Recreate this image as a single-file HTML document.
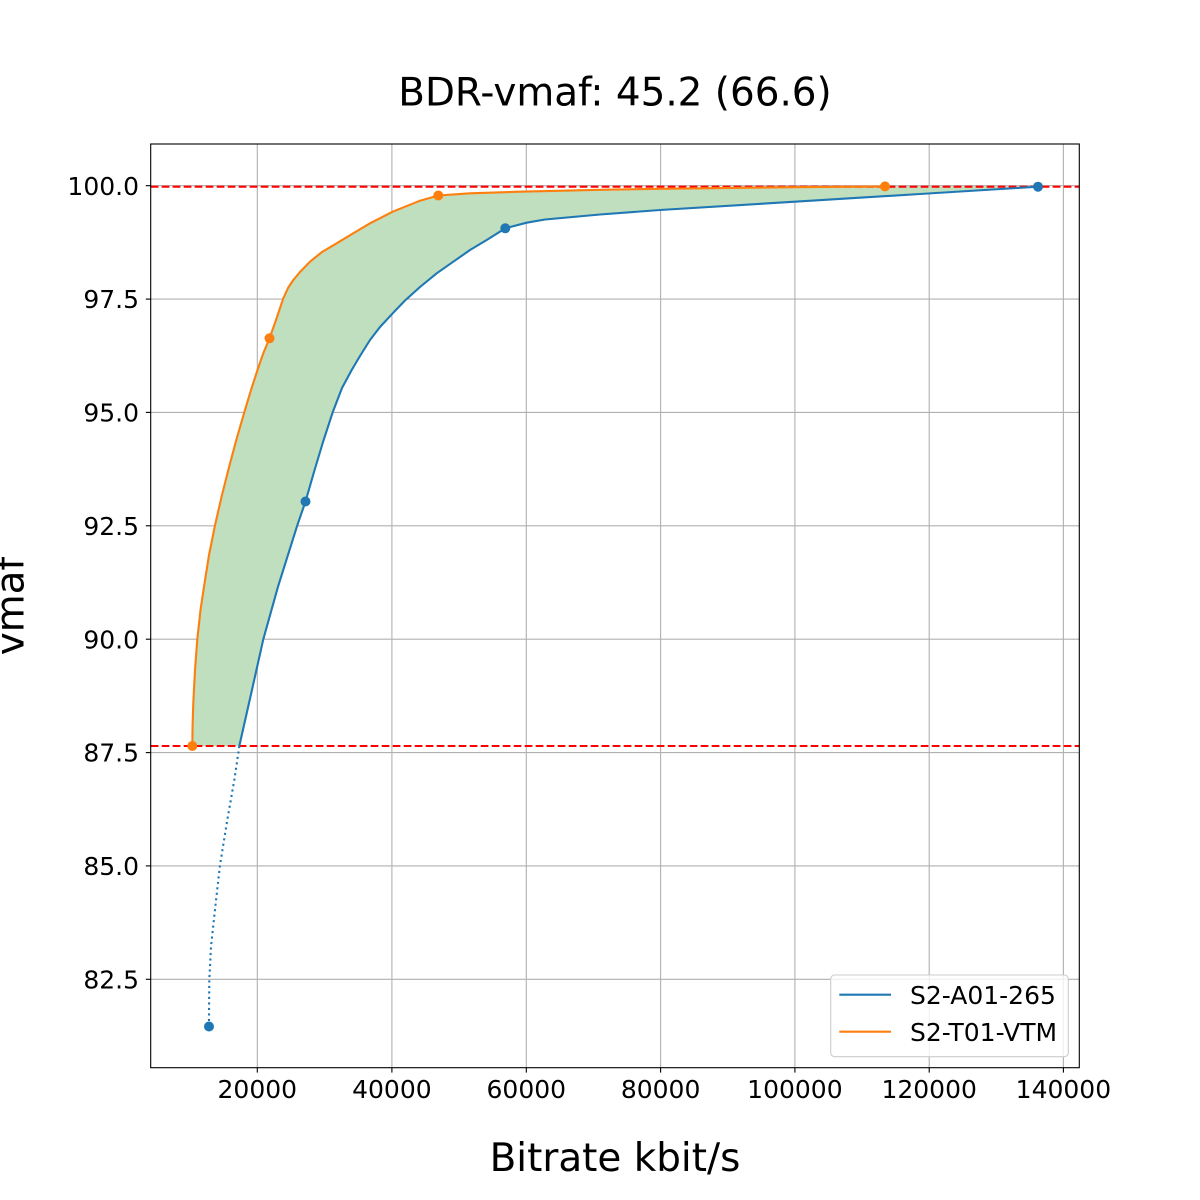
<!DOCTYPE html>
<html>
<head>
<meta charset="utf-8">
<style>
  html, body { margin: 0; padding: 0; background: #ffffff; }
  svg { display: block; }
  text { font-family: "DejaVu Sans", "Liberation Sans", sans-serif; fill: #000; }
</style>
</head>
<body>
<svg width="1200" height="1200" viewBox="0 0 1200 1200" xmlns="http://www.w3.org/2000/svg">
  <rect x="0" y="0" width="1200" height="1200" fill="#ffffff"/>

  <!-- Title -->
  <text x="615" y="105.7" font-size="38.9" text-anchor="middle">BDR-vmaf: 45.2 (66.6)</text>

  <!-- Grid -->
  <g stroke="#b0b0b0" stroke-width="1.1" fill="none">
    <line x1="257.3" y1="144" x2="257.3" y2="1067.7"/>
    <line x1="391.9" y1="144" x2="391.9" y2="1067.7"/>
    <line x1="526.3" y1="144" x2="526.3" y2="1067.7"/>
    <line x1="660.6" y1="144" x2="660.6" y2="1067.7"/>
    <line x1="794.9" y1="144" x2="794.9" y2="1067.7"/>
    <line x1="929.2" y1="144" x2="929.2" y2="1067.7"/>
    <line x1="1063.4" y1="144" x2="1063.4" y2="1067.7"/>

    <line x1="150.7" y1="185.7" x2="1079.3" y2="185.7"/>
    <line x1="150.7" y1="299.1" x2="1079.3" y2="299.1"/>
    <line x1="150.7" y1="412.4" x2="1079.3" y2="412.4"/>
    <line x1="150.7" y1="525.8" x2="1079.3" y2="525.8"/>
    <line x1="150.7" y1="639.2" x2="1079.3" y2="639.2"/>
    <line x1="150.7" y1="752.6" x2="1079.3" y2="752.6"/>
    <line x1="150.7" y1="865.9" x2="1079.3" y2="865.9"/>
    <line x1="150.7" y1="979.3" x2="1079.3" y2="979.3"/>
  </g>

  <!-- Fill between curves -->
  <polygon fill="#bfdfbf" stroke="none" points="
    192.3,746 192.6,725 193.3,703 195,670 197.3,639.3 200.5,610 204,586.7 209,555 215,525.3 221.5,497 228.3,470 236,441 244.3,412.3 251,390 257.5,370 263,354 269.5,338.3 276,320 283.3,298.3 288,288 293.3,280 300,272 310,261.7 322,252 336.7,243.3 352,234 370,223.3 392.7,211.7 420,200.7 438.3,195.5 470,193.3 520,191.7 600,189.8 660,188.8 795,187.2 885,186.4 1038,186.7
    920,194 795,201.7 660,210 600,214.5 545,219.5 526.7,222.7 505.3,228.3 486.7,240 470,250 453.3,261.7 436.7,273.3 420,287 405,300.5 392.7,313.3 380,327 370,340 360,356 351.7,370 342,388 332.7,412.3 323,442 314,472 305.5,501.5 297.3,525.3 278,586.7 263.3,639.3 251.5,692 239.3,746"/>

  <!-- Red dashed reference lines -->
  <g stroke="#ff0000" stroke-width="2.1" stroke-dasharray="7.7 3.3" fill="none">
    <line x1="150.7" y1="186.7" x2="1079.3" y2="186.7"/>
    <line x1="150.7" y1="746" x2="1079.3" y2="746"/>
  </g>

  <!-- Blue dotted extrapolation -->
  <polyline fill="none" stroke="#1f77b4" stroke-width="2.1" stroke-dasharray="2.1 3.4"
    points="239.3,746 238.5,752 234.3,780 227.3,820 220,865 215.3,906.7 211,946.7 209.3,980 209,1016.7 209,1026.5"/>

  <!-- Blue solid curve -->
  <polyline fill="none" stroke="#1f77b4" stroke-width="2.1" stroke-linejoin="round" stroke-linecap="butt"
    points="239.3,746 251.5,692 263.3,639.3 278,586.7 297.3,525.3 305.5,501.5 314,472 323,442 332.7,412.3 342,388 351.7,370 360,356 370,340 380,327 392.7,313.3 405,300.5 420,287 436.7,273.3 453.3,261.7 470,250 486.7,240 505.3,228.3 526.7,222.7 545,219.5 600,214.5 660,210 795,201.7 920,194 1038,186.7"/>

  <!-- Orange solid curve -->
  <polyline fill="none" stroke="#ff7f0e" stroke-width="2.1" stroke-linejoin="round" stroke-linecap="butt"
    points="192.3,746 192.6,725 193.3,703 195,670 197.3,639.3 200.5,610 204,586.7 209,555 215,525.3 221.5,497 228.3,470 236,441 244.3,412.3 251,390 257.5,370 263,354 269.5,338.3 276,320 283.3,298.3 288,288 293.3,280 300,272 310,261.7 322,252 336.7,243.3 352,234 370,223.3 392.7,211.7 420,200.7 438.3,195.5 470,193.3 520,191.7 600,189.8 660,188.8 795,187.2 885,186.4"/>

  <!-- Markers -->
  <g fill="#1f77b4">
    <circle cx="209" cy="1026.5" r="5"/>
    <circle cx="305.5" cy="501.5" r="5"/>
    <circle cx="505.3" cy="228.3" r="5"/>
    <circle cx="1038" cy="186.7" r="5"/>
  </g>
  <g fill="#ff7f0e">
    <circle cx="192.3" cy="746" r="5"/>
    <circle cx="269.5" cy="338.3" r="5"/>
    <circle cx="438.3" cy="195.5" r="5"/>
    <circle cx="885" cy="186.4" r="5"/>
  </g>

  <!-- Spines -->
  <rect x="150.7" y="144" width="928.6" height="923.7" fill="none" stroke="#000" stroke-width="1.1"/>

  <!-- X ticks -->
  <g stroke="#000" stroke-width="1.1">
    <line x1="257.3" y1="1067.7" x2="257.3" y2="1072.6"/>
    <line x1="391.9" y1="1067.7" x2="391.9" y2="1072.6"/>
    <line x1="526.3" y1="1067.7" x2="526.3" y2="1072.6"/>
    <line x1="660.6" y1="1067.7" x2="660.6" y2="1072.6"/>
    <line x1="794.9" y1="1067.7" x2="794.9" y2="1072.6"/>
    <line x1="929.2" y1="1067.7" x2="929.2" y2="1072.6"/>
    <line x1="1063.4" y1="1067.7" x2="1063.4" y2="1072.6"/>
  </g>
  <g font-size="25" text-anchor="middle">
    <text x="257.3" y="1098">20000</text>
    <text x="391.9" y="1098">40000</text>
    <text x="526.3" y="1098">60000</text>
    <text x="660.6" y="1098">80000</text>
    <text x="794.9" y="1098">100000</text>
    <text x="929.2" y="1098">120000</text>
    <text x="1063.4" y="1098">140000</text>
  </g>

  <!-- Y ticks -->
  <g stroke="#000" stroke-width="1.1">
    <line x1="145.8" y1="185.7" x2="150.7" y2="185.7"/>
    <line x1="145.8" y1="299.1" x2="150.7" y2="299.1"/>
    <line x1="145.8" y1="412.4" x2="150.7" y2="412.4"/>
    <line x1="145.8" y1="525.8" x2="150.7" y2="525.8"/>
    <line x1="145.8" y1="639.2" x2="150.7" y2="639.2"/>
    <line x1="145.8" y1="752.6" x2="150.7" y2="752.6"/>
    <line x1="145.8" y1="865.9" x2="150.7" y2="865.9"/>
    <line x1="145.8" y1="979.3" x2="150.7" y2="979.3"/>
  </g>
  <g font-size="25" text-anchor="end">
    <text x="139" y="194.8">100.0</text>
    <text x="139" y="308.2">97.5</text>
    <text x="139" y="421.5">95.0</text>
    <text x="139" y="534.9">92.5</text>
    <text x="139" y="648.3">90.0</text>
    <text x="139" y="761.7">87.5</text>
    <text x="139" y="875">85.0</text>
    <text x="139" y="988.4">82.5</text>
  </g>

  <!-- Axis labels -->
  <text x="615" y="1171" font-size="38.9" text-anchor="middle">Bitrate kbit/s</text>
  <text transform="translate(23.3,606) rotate(-90)" font-size="38.9" text-anchor="middle">vmaf</text>

  <!-- Legend -->
  <rect x="830.7" y="975" width="237.6" height="81.7" rx="4" ry="4" fill="#ffffff" fill-opacity="0.8" stroke="#cccccc" stroke-width="1.1"/>
  <line x1="839.3" y1="994.7" x2="891" y2="994.7" stroke="#1f77b4" stroke-width="2.1"/>
  <line x1="839.3" y1="1031.7" x2="891" y2="1031.7" stroke="#ff7f0e" stroke-width="2.1"/>
  <text x="910" y="1003.8" font-size="25">S2-A01-265</text>
  <text x="910" y="1040.8" font-size="25">S2-T01-VTM</text>
</svg>
</body>
</html>
